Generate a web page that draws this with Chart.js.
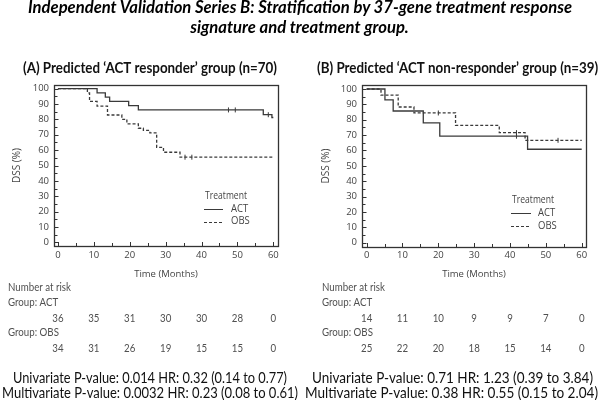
<!DOCTYPE html>
<html>
<head>
<meta charset="utf-8">
<script src="https://cdn.jsdelivr.net/npm/chart.js@4.4.1/dist/chart.umd.min.js"></script>
<style>
  html, body { margin: 0; padding: 0; background: #fff; }
  #wrap { position: relative; width: 600px; height: 400px; overflow: hidden; background: #fff; }
  canvas.cv { position: absolute; top: 0; }
  .tl { position: absolute; left: 0; width: 600px; text-align: center; white-space: nowrap; }
  .tl span { display: inline-block; font: italic bold 16.5px Lato, "Open Sans", sans-serif; line-height: 17px; color: #000; transform-origin: 50% 50%; }
</style>
</head>
<body>
<div id="wrap">
  <canvas id="cA" class="cv" width="300" height="400" style="left:0px"></canvas>
  <canvas id="cB" class="cv" width="300" height="400" style="left:300px"></canvas>
  <div class="tl" style="top:-1px"><span id="t1">Independent Validation Series B: Stratification by 37-gene treatment response</span></div>
  <div class="tl" style="top:19px"><span id="t2">signature and treatment group.</span></div>
</div>
<script>
// ---------------- data ----------------
const timeTicks = [0, 10, 20, 30, 40, 50, 60];
const dssTicks = [0, 10, 20, 30, 40, 50, 60, 70, 80, 90, 100];
const groupNames = ['ACT', 'OBS'];

// Panel A: predicted ACT responders (n=70)
const aActTime = [0, 10.9, 13.2, 14.4, 19.7, 22.4, 57.2, 59.6, 60];
const aActDss  = [100, 97.2, 94.4, 91.7, 88.9, 86.1, 83.0, 81.2, 81.2];
const aObsTime = [0, 8.2, 8.8, 10.9, 13.8, 17.8, 19.2, 22.4, 23.8, 25.6, 27.5, 29.4, 34.0, 60];
const aObsDss  = [100, 97.1, 91.6, 88.6, 82.8, 80.0, 77.0, 74.2, 72.8, 71.2, 61.8, 58.6, 55.4, 55.4];
const aActCensorTime = [47.5, 49.4, 58.6];
const aActCensorDss  = [86.1, 86.1, 83.0];
const aObsCensorTime = [35.4, 37.3];
const aObsCensorDss  = [55.4, 55.4];
const aRiskAct = [36, 35, 31, 30, 30, 28, 0];
const aRiskObs = [34, 31, 26, 19, 15, 15, 0];
const aTitle = '(A) Predicted \u2018ACT responder\u2019 group (n=70)';
const aStats = ['Univariate P-value: 0.014 HR: 0.32 (0.14 to 0.77)',
                'Multivariate P-value: 0.0032 HR: 0.23 (0.08 to 0.61)'];

// Panel B: predicted ACT non-responders (n=39)
const bActTime = [0, 5.1, 7.4, 15.8, 20.4, 44.9, 60];
const bActDss  = [100, 92.9, 85.7, 77.9, 69.3, 60.8, 60.8];
const bObsTime = [0, 4.0, 8.8, 13.2, 24.8, 37.0, 44.2, 60];
const bObsDss  = [100, 96.0, 88.3, 84.4, 76.3, 71.6, 66.6, 66.6];
const bActCensorTime = [41.8];
const bActCensorDss  = [69.3];
const bObsCensorTime = [20.0, 41.8, 53.4];
const bObsCensorDss  = [84.4, 71.6, 66.6];
const bRiskAct = [14, 11, 10, 9, 9, 7, 0];
const bRiskObs = [25, 22, 20, 18, 15, 14, 0];
const bTitle = '(B) Predicted \u2018ACT non-responder\u2019 group (n=39)';
const bStats = ['Univariate P-value: 0.71 HR: 1.23 (0.39 to 3.84)',
                'Multivariate P-value: 0.38 HR: 0.55 (0.15 to 2.04)'];

// ---------------- helpers ----------------
const pts = (t, v) => t.map((x, i) => ({ x: x, y: v[i] }));
const INK = '#3a3a3a';
const TXT = '#444';

function fitText(ctx, text, x, y, targetW, align, sxFixed) {
  const w = ctx.measureText(text).width;
  const sx = sxFixed ? sxFixed : (targetW ? targetW / w : 1);
  ctx.save();
  ctx.translate(x, y);
  ctx.scale(sx, 1);
  ctx.textAlign = align || 'left';
  ctx.fillText(text, 0, 0);
  ctx.restore();
  return sx;
}

const decor = {
  id: 'decor',
  afterDraw(chart, args, o) {
    const ctx = chart.ctx;
    const { left, right, top, bottom } = chart.chartArea;
    const xs = chart.scales.x, ys = chart.scales.y;
    ctx.save();
    // frame
    ctx.strokeStyle = '#333';
    ctx.lineWidth = 1.3;
    ctx.strokeRect(Math.round(left) + 0.5, Math.round(top) + 0.5, Math.round(right - left), Math.round(bottom - top));
    // inner tick marks (major + minor)
    ctx.beginPath();
    ctx.lineWidth = 1;
    for (let i = 0; i < dssTicks.length; i++) {
      const v = dssTicks[i];
      const y = Math.round(ys.getPixelForValue(v)) + 0.5;
      ctx.moveTo(left, y); ctx.lineTo(left + 4.5, y);
      if (i < dssTicks.length - 1) {
        const ym = Math.round(ys.getPixelForValue((v + dssTicks[i + 1]) / 2)) + 0.5;
        ctx.moveTo(left, ym); ctx.lineTo(left + 3.5, ym);
      }
    }
    for (let i = 0; i < timeTicks.length; i++) {
      const t = timeTicks[i];
      const x = Math.round(xs.getPixelForValue(t)) + 0.5;
      ctx.moveTo(x, bottom); ctx.lineTo(x, bottom - 4);
      if (i < timeTicks.length - 1) {
        const xm = Math.round(xs.getPixelForValue((t + timeTicks[i + 1]) / 2)) + 0.5;
        ctx.moveTo(xm, bottom); ctx.lineTo(xm, bottom - 3);
      }
    }
    ctx.stroke();

    // legend
    const L = o.legend;
    ctx.fillStyle = TXT;
    ctx.textBaseline = 'middle';
    ctx.font = '10px "Open Sans", sans-serif';
    fitText(ctx, 'Treatment', L.titleX, L.y0, 42, 'center');
    for (let i = 0; i < groupNames.length; i++) {
      const ds = chart.data.datasets[i];
      const y = L.y0 + L.dy * (i + 1);
      ctx.save();
      ctx.strokeStyle = ds.borderColor;
      ctx.lineWidth = 1;
      ctx.setLineDash(ds.borderDash || []);
      ctx.beginPath();
      ctx.moveTo(L.lineX0, Math.round(y) + 0.5); ctx.lineTo(L.lineX1, Math.round(y) + 0.5);
      ctx.stroke();
      ctx.restore();
      fitText(ctx, groupNames[i], L.textX, y, null, 'left', 0.95);
    }

    // panel subtitle
    ctx.fillStyle = '#111';
    ctx.font = 'bold 15px Lato, "Open Sans", sans-serif';
    fitText(ctx, o.title, o.subX, o.subY, null, 'left', o.subSx);

    // number at risk table
    const R = o.risk;
    ctx.fillStyle = '#505050';
    ctx.font = '11px Lato, "Open Sans", sans-serif';
    const rsx = 63 / ctx.measureText('Number at risk').width;
    fitText(ctx, 'Number at risk', R.x, R.rows[0], null, 'left', rsx);
    fitText(ctx, 'Group: ' + groupNames[0], R.x, R.rows[1], null, 'left', rsx);
    fitText(ctx, 'Group: ' + groupNames[1], R.x, R.rows[3], null, 'left', rsx);
    for (let i = 0; i < timeTicks.length; i++) {
      const x = xs.getPixelForValue(timeTicks[i]);
      fitText(ctx, String(o.riskAct[i]), x, R.rows[2], null, 'center', rsx);
      fitText(ctx, String(o.riskObs[i]), x, R.rows[4], null, 'center', rsx);
    }

    // statistics lines
    ctx.fillStyle = '#111';
    ctx.font = '15px Lato, "Open Sans", sans-serif';
    fitText(ctx, o.stats[0], o.pv.cx1, o.pv.y1, o.pv.w1, 'center');
    fitText(ctx, o.stats[1], o.pv.cx2, o.pv.y2, o.pv.w2, 'center');
    ctx.restore();
  }
};

function makePanel(id, P) {
  const datasets = [
    { label: groupNames[0], data: pts(P.actT, P.actV), stepped: 'before', borderColor: INK, borderWidth: 1.3, pointRadius: 0, fill: false },
    { label: groupNames[1], data: pts(P.obsT, P.obsV), stepped: 'before', borderColor: INK, borderWidth: 1.3, borderDash: [3, 2], pointRadius: 0, fill: false },
    { type: 'scatter', label: 'ACT censored', data: pts(P.actCT, P.actCV), pointStyle: 'line', rotation: 90, radius: 2.5, borderColor: INK, borderWidth: 1, showLine: false },
    { type: 'scatter', label: 'OBS censored', data: pts(P.obsCT, P.obsCV), pointStyle: 'line', rotation: 90, radius: 2.5, borderColor: INK, borderWidth: 1, showLine: false }
  ];
  return new Chart(document.getElementById(id), {
    type: 'line',
    data: { datasets },
    plugins: [decor],
    options: {
      responsive: false,
      maintainAspectRatio: false,
      animation: false,
      layout: { padding: P.pad },
      plugins: {
        legend: { display: false },
        tooltip: { enabled: false },
        decor: P.decor
      },
      scales: {
        x: {
          type: 'linear', min: P.xmin, max: P.xmax,
          grid: { display: false, drawTicks: false },
          border: { display: false },
          afterBuildTicks: s => { s.ticks = timeTicks.map(v => ({ value: v })); },
          afterFit: s => { s.height = P.xH; },
          ticks: { autoSkip: false, maxRotation: 0, padding: P.xTickPad, color: TXT, font: { family: '"Open Sans", sans-serif', size: 9.5 } },
          title: { display: true, text: 'Time (Months)', color: TXT, padding: { top: 0, bottom: 0 }, font: { family: '"Open Sans", sans-serif', size: 9.5 } }
        },
        y: {
          type: 'linear', min: P.ymin, max: P.ymax,
          grid: { display: false, drawTicks: false },
          border: { display: false },
          afterBuildTicks: s => { s.ticks = dssTicks.map(v => ({ value: v })); },
          afterFit: s => { s.width = P.yW; },
          ticks: { autoSkip: false, padding: 5, color: TXT, font: { family: '"Open Sans", sans-serif', size: 9.5 } },
          title: { display: true, text: 'DSS (%)', color: TXT, padding: { top: P.dssPad, bottom: 0 }, font: { family: '"Open Sans", sans-serif', size: 10 } }
        }
      }
    }
  });
}

// subtitle horizontal scale from panel A's measured width
const mctx = document.createElement('canvas').getContext('2d');
mctx.font = 'bold 15px Lato, "Open Sans", sans-serif';
const subSx = 254 / mctx.measureText(aTitle).width;

makePanel('cA', {
  actT: aActTime, actV: aActDss, obsT: aObsTime, obsV: aObsDss,
  actCT: aActCensorTime, actCV: aActCensorDss, obsCT: aObsCensorTime, obsCV: aObsCensorDss,
  pad: { left: 0, right: 22, top: 85, bottom: 120 }, yW: 54, xH: 34, xTickPad: 4,
  xmin: -1.1, xmax: 61.3, ymin: -2.3, ymax: 102.3, dssPad: 11,
  decor: {
    legend: { titleX: 226, lineX0: 204, lineX1: 223, textX: 231, y0: 196, dy: 12.8 },
    title: aTitle, subX: 23, subY: 68, subSx: subSx,
    risk: { x: 8, rows: [287.5, 302.5, 318, 332, 348] },
    riskAct: aRiskAct, riskObs: aRiskObs,
    stats: aStats,
    pv: { cx1: 150, y1: 378.3, w1: 274, cx2: 150, y2: 393.3, w2: 296 }
  }
});

makePanel('cB', {
  actT: bActTime, actV: bActDss, obsT: bObsTime, obsV: bObsDss,
  actCT: bActCensorTime, actCV: bActCensorDss, obsCT: bObsCensorTime, obsCV: bObsCensorDss,
  pad: { left: 0, right: 14, top: 85, bottom: 120 }, yW: 62, xH: 33, xTickPad: 3,
  xmin: -1.3, xmax: 61.2, ymin: -2.8, ymax: 102.6, dssPad: 20,
  decor: {
    legend: { titleX: 233, lineX0: 211, lineX1: 231, textX: 238, y0: 200, dy: 12.9 },
    title: bTitle, subX: 17, subY: 68, subSx: subSx,
    risk: { x: 22, rows: [287.5, 302.5, 318, 332, 348] },
    riskAct: bRiskAct, riskObs: bRiskObs,
    stats: bStats,
    pv: { cx1: 152.5, y1: 378.3, w1: 281, cx2: 151.5, y2: 393.3, w2: 293 }
  }
});

// fit main title lines
(function () {
  const t1 = document.getElementById('t1');
  const t2 = document.getElementById('t2');
  const s = 544 / t1.offsetWidth;
  t1.style.transform = 'scaleX(' + s + ')';
  t2.style.transform = 'scaleX(' + s + ')';
})();
</script>
</body>
</html>
